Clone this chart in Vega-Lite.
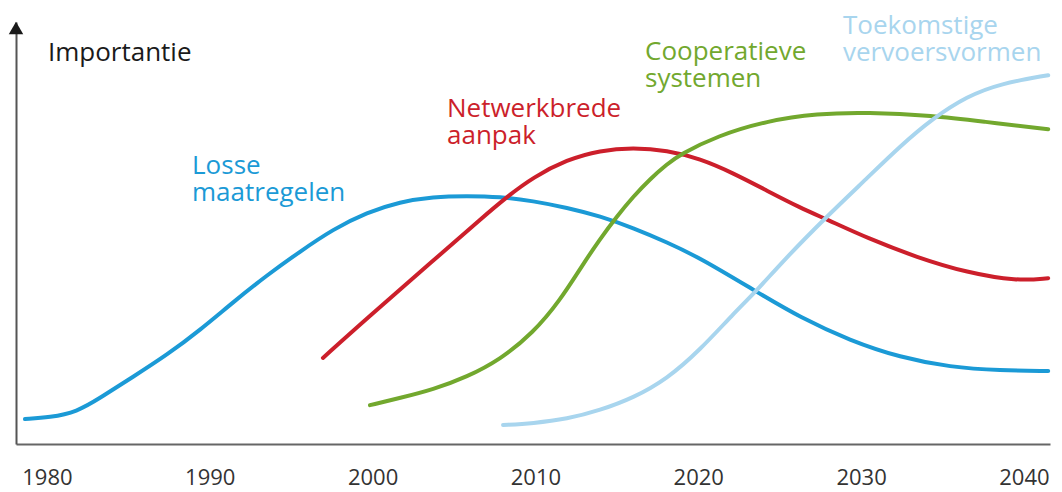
{
  "$schema": "https://vega.github.io/schema/vega-lite/v6.json",
  "width": 1034,
  "height": 422,
  "autosize": "none",
  "padding": {"left": 16, "top": 22, "right": 12, "bottom": 48},
  "background": "white",
  "config": {
    "view": {"stroke": null},
    "font": "Open Sans"
  },
  "datasets": {
    "curves": [
      {"series": "Losse maatregelen", "year": 1978.65, "value": 5.9},
      {"series": "Losse maatregelen", "year": 1980.18, "value": 6.3},
      {"series": "Losse maatregelen", "year": 1981.84, "value": 7.6},
      {"series": "Losse maatregelen", "year": 1983.26, "value": 10.9},
      {"series": "Losse maatregelen", "year": 1985.28, "value": 15.9},
      {"series": "Losse maatregelen", "year": 1987.37, "value": 21.1},
      {"series": "Losse maatregelen", "year": 1989.40, "value": 27.0},
      {"series": "Losse maatregelen", "year": 1991.43, "value": 33.6},
      {"series": "Losse maatregelen", "year": 1993.51, "value": 40.0},
      {"series": "Losse maatregelen", "year": 1995.54, "value": 45.6},
      {"series": "Losse maatregelen", "year": 1997.57, "value": 50.9},
      {"series": "Losse maatregelen", "year": 1999.66, "value": 54.9},
      {"series": "Losse maatregelen", "year": 2001.68, "value": 57.4},
      {"series": "Losse maatregelen", "year": 2003.71, "value": 58.6},
      {"series": "Losse maatregelen", "year": 2005.80, "value": 58.8},
      {"series": "Losse maatregelen", "year": 2007.83, "value": 58.6},
      {"series": "Losse maatregelen", "year": 2009.85, "value": 57.6},
      {"series": "Losse maatregelen", "year": 2011.94, "value": 56.0},
      {"series": "Losse maatregelen", "year": 2013.97, "value": 54.0},
      {"series": "Losse maatregelen", "year": 2016.00, "value": 51.2},
      {"series": "Losse maatregelen", "year": 2018.08, "value": 47.8},
      {"series": "Losse maatregelen", "year": 2020.11, "value": 44.1},
      {"series": "Losse maatregelen", "year": 2023.61, "value": 36.0},
      {"series": "Losse maatregelen", "year": 2026.25, "value": 30.0},
      {"series": "Losse maatregelen", "year": 2029.32, "value": 24.5},
      {"series": "Losse maatregelen", "year": 2032.40, "value": 20.5},
      {"series": "Losse maatregelen", "year": 2035.47, "value": 18.2},
      {"series": "Losse maatregelen", "year": 2038.54, "value": 17.4},
      {"series": "Losse maatregelen", "year": 2041.49, "value": 17.3},

      {"series": "Netwerkbrede aanpak", "year": 1996.95, "value": 20.4},
      {"series": "Netwerkbrede aanpak", "year": 1999.66, "value": 29.8},
      {"series": "Netwerkbrede aanpak", "year": 2003.71, "value": 43.4},
      {"series": "Netwerkbrede aanpak", "year": 2006.78, "value": 53.8},
      {"series": "Netwerkbrede aanpak", "year": 2008.26, "value": 58.6},
      {"series": "Netwerkbrede aanpak", "year": 2009.85, "value": 63.2},
      {"series": "Netwerkbrede aanpak", "year": 2011.94, "value": 67.4},
      {"series": "Netwerkbrede aanpak", "year": 2013.97, "value": 69.6},
      {"series": "Netwerkbrede aanpak", "year": 2016.00, "value": 70.2},
      {"series": "Netwerkbrede aanpak", "year": 2018.08, "value": 69.6},
      {"series": "Netwerkbrede aanpak", "year": 2020.11, "value": 67.6},
      {"series": "Netwerkbrede aanpak", "year": 2022.14, "value": 64.2},
      {"series": "Netwerkbrede aanpak", "year": 2024.23, "value": 60.0},
      {"series": "Netwerkbrede aanpak", "year": 2026.25, "value": 56.0},
      {"series": "Netwerkbrede aanpak", "year": 2027.91, "value": 53.2},
      {"series": "Netwerkbrede aanpak", "year": 2030.37, "value": 48.8},
      {"series": "Netwerkbrede aanpak", "year": 2033.44, "value": 44.2},
      {"series": "Netwerkbrede aanpak", "year": 2036.51, "value": 40.6},
      {"series": "Netwerkbrede aanpak", "year": 2039.58, "value": 38.6},
      {"series": "Netwerkbrede aanpak", "year": 2041.49, "value": 39.3},

      {"series": "Cooperatieve systemen", "year": 1999.84, "value": 9.2},
      {"series": "Cooperatieve systemen", "year": 2001.68, "value": 10.9},
      {"series": "Cooperatieve systemen", "year": 2003.71, "value": 12.9},
      {"series": "Cooperatieve systemen", "year": 2005.80, "value": 15.9},
      {"series": "Cooperatieve systemen", "year": 2007.83, "value": 20.0},
      {"series": "Cooperatieve systemen", "year": 2009.85, "value": 26.3},
      {"series": "Cooperatieve systemen", "year": 2011.51, "value": 34.0},
      {"series": "Cooperatieve systemen", "year": 2012.92, "value": 42.6},
      {"series": "Cooperatieve systemen", "year": 2013.97, "value": 48.6},
      {"series": "Cooperatieve systemen", "year": 2015.01, "value": 54.0},
      {"series": "Cooperatieve systemen", "year": 2016.00, "value": 58.6},
      {"series": "Cooperatieve systemen", "year": 2017.04, "value": 62.8},
      {"series": "Cooperatieve systemen", "year": 2018.08, "value": 66.3},
      {"series": "Cooperatieve systemen", "year": 2018.88, "value": 68.6},
      {"series": "Cooperatieve systemen", "year": 2021.15, "value": 73.0},
      {"series": "Cooperatieve systemen", "year": 2024.23, "value": 76.6},
      {"series": "Cooperatieve systemen", "year": 2027.30, "value": 78.3},
      {"series": "Cooperatieve systemen", "year": 2030.37, "value": 78.6},
      {"series": "Cooperatieve systemen", "year": 2034.42, "value": 77.8},
      {"series": "Cooperatieve systemen", "year": 2037.49, "value": 76.4},
      {"series": "Cooperatieve systemen", "year": 2041.49, "value": 74.6},

      {"series": "Toekomstige vervoersvormen", "year": 2008.01, "value": 4.5},
      {"series": "Toekomstige vervoersvormen", "year": 2009.85, "value": 4.9},
      {"series": "Toekomstige vervoersvormen", "year": 2011.94, "value": 5.9},
      {"series": "Toekomstige vervoersvormen", "year": 2013.97, "value": 8.0},
      {"series": "Toekomstige vervoersvormen", "year": 2016.00, "value": 10.9},
      {"series": "Toekomstige vervoersvormen", "year": 2018.08, "value": 15.4},
      {"series": "Toekomstige vervoersvormen", "year": 2020.11, "value": 22.3},
      {"series": "Toekomstige vervoersvormen", "year": 2022.14, "value": 30.8},
      {"series": "Toekomstige vervoersvormen", "year": 2023.61, "value": 36.4},
      {"series": "Toekomstige vervoersvormen", "year": 2025.21, "value": 43.4},
      {"series": "Toekomstige vervoersvormen", "year": 2027.91, "value": 54.0},
      {"series": "Toekomstige vervoersvormen", "year": 2030.37, "value": 63.0},
      {"series": "Toekomstige vervoersvormen", "year": 2032.40, "value": 70.6},
      {"series": "Toekomstige vervoersvormen", "year": 2034.42, "value": 77.2},
      {"series": "Toekomstige vervoersvormen", "year": 2036.51, "value": 82.4},
      {"series": "Toekomstige vervoersvormen", "year": 2038.54, "value": 85.4},
      {"series": "Toekomstige vervoersvormen", "year": 2041.49, "value": 87.4}
    ],
    "labels": [
      {"series": "Importantie", "label": "Importantie", "year": 1980.06, "value": 90.8},
      {"series": "Losse maatregelen", "label": "Losse\nmaatregelen", "year": 1988.91, "value": 64.0},
      {"series": "Netwerkbrede aanpak", "label": "Netwerkbrede\naanpak", "year": 2004.57, "value": 77.5},
      {"series": "Cooperatieve systemen", "label": "Cooperatieve\nsystemen", "year": 2016.73, "value": 91.0},
      {"series": "Toekomstige vervoersvormen", "label": "Toekomstige\nvervoersvormen", "year": 2028.89, "value": 97.2}
    ],
    "arrow": [
      {"year": 1978.1, "value": 98.6}
    ]
  },
  "encoding": {
    "x": {
      "field": "year",
      "type": "quantitative",
      "scale": {"domain": [1978.1, 2041.6], "nice": false, "zero": false},
      "axis": {
        "values": [1980, 1990, 2000, 2010, 2020, 2030, 2040],
        "format": "d",
        "title": null,
        "grid": false,
        "ticks": false,
        "domainColor": "#666666",
        "domainWidth": 2,
        "labelFontSize": 22,
        "labelColor": "#333333",
        "labelPadding": 23,
        "labelFont": "Open Sans"
      }
    },
    "y": {
      "field": "value",
      "type": "quantitative",
      "scale": {"domain": [0, 100], "nice": false},
      "axis": {
        "title": null,
        "grid": false,
        "ticks": false,
        "labels": false,
        "domainColor": "#555555",
        "domainWidth": 2
      }
    }
  },
  "layer": [
    {
      "data": {"name": "curves"},
      "mark": {"type": "line", "strokeWidth": 4, "interpolate": "basis", "strokeCap": "round"},
      "encoding": {
        "color": {
          "field": "series",
          "type": "nominal",
          "legend": null,
          "scale": {
            "domain": ["Losse maatregelen", "Netwerkbrede aanpak", "Cooperatieve systemen", "Toekomstige vervoersvormen", "Importantie"],
            "range": ["#1b9ad6", "#cc1f2b", "#72a82e", "#a8d5ee", "#1a1a1a"]
          }
        }
      }
    },
    {
      "data": {"name": "labels"},
      "mark": {"type": "text", "align": "left", "baseline": "alphabetic", "fontSize": 26, "lineBreak": "\n", "lineHeight": 27, "font": "Open Sans"},
      "encoding": {
        "text": {"field": "label", "type": "nominal"},
        "color": {"field": "series", "type": "nominal", "legend": null}
      }
    },
    {
      "data": {"name": "arrow"},
      "mark": {"type": "point", "shape": "triangle-up", "filled": true, "size": 210, "fill": "#1a1a1a", "stroke": null, "opacity": 1}
    }
  ]
}
